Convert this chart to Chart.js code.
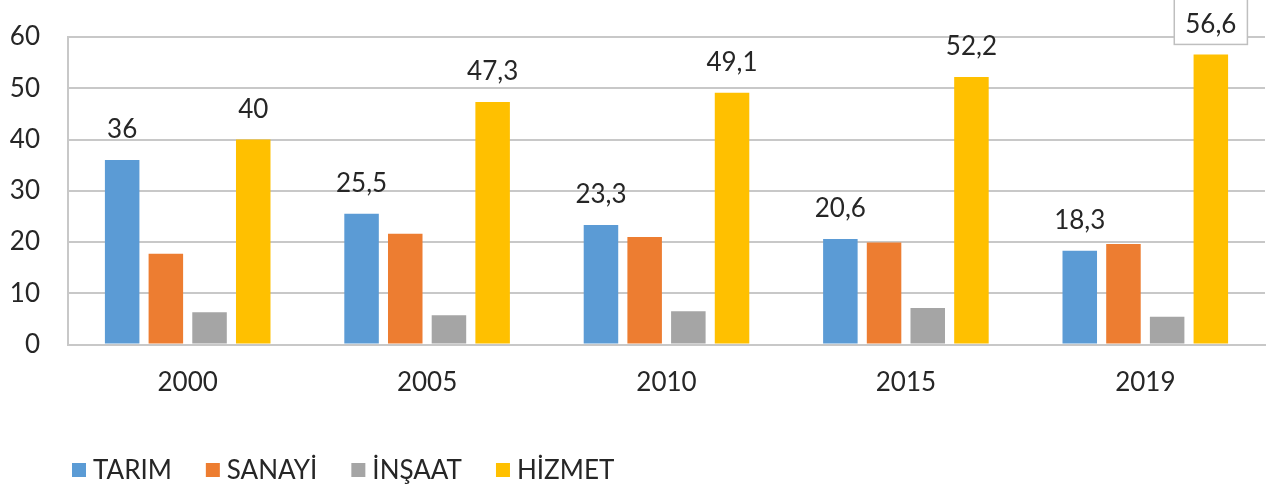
<!DOCTYPE html>
<html>
<head>
<meta charset="utf-8">
<script src="https://cdn.jsdelivr.net/npm/chart.js@4/dist/chart.umd.min.js"></script>
<style>
  html, body { margin: 0; padding: 0; background: #fff; }
  #wrap { width: 1266px; height: 486px; position: relative; }
</style>
</head>
<body>
<div id="wrap"><canvas id="sektorChart"></canvas></div>
<script>
// Data
const years = ['2000', '2005', '2010', '2015', '2019'];
const tarim = [36, 25.5, 23.3, 20.6, 18.3];
const sanayi = [17.7, 21.6, 21.0, 19.9, 19.6];
const insaat = [6.3, 5.7, 6.5, 7.1, 5.4];
const hizmet = [40, 47.3, 49.1, 52.2, 56.6];
const yTicks = [0, 10, 20, 30, 40, 50, 60];
const labeledSeries = ['TARIM', 'HİZMET'];

const fontFamily = "Lato, 'Open Sans', sans-serif";
Chart.defaults.font.family = fontFamily;
Chart.defaults.font.size = 26;
Chart.defaults.color = '#262626';

const gridColor = '#c8c8c8';

// draws value labels above TARIM and HİZMET bars
const valueLabels = {
  id: 'valueLabels',
  afterDatasetsDraw(chart) {
    const ctx = chart.ctx;
    const area = chart.chartArea;
    ctx.save();
    ctx.font = '26px ' + fontFamily;
    ctx.fillStyle = '#262626';
    ctx.textAlign = 'center';
    ctx.textBaseline = 'middle';
    chart.data.datasets.forEach((ds, i) => {
      if (!labeledSeries.includes(ds.label)) return;
      chart.getDatasetMeta(i).data.forEach((bar, j) => {
        const txt = String(ds.data[j]).replace('.', ',');
        const y = bar.y - 30;
        if (y < area.top) {
          // label pushed over the top edge gets a white box, as in the original
          const w = ctx.measureText(txt).width + 22;
          ctx.fillStyle = '#fff';
          ctx.fillRect(bar.x - w / 2, y - 26, w, 46);
          ctx.strokeStyle = '#bfbfbf';
          ctx.lineWidth = 1.5;
          ctx.strokeRect(bar.x - w / 2, y - 26, w, 46);
          ctx.fillStyle = '#262626';
        }
        ctx.fillText(txt, bar.x, y);
      });
    });
    ctx.restore();
  }
};

// legend along the bottom, left aligned like the original
const bottomLegend = {
  id: 'bottomLegend',
  afterDraw(chart) {
    const ctx = chart.ctx;
    let x = 72;
    const y = 470;
    ctx.save();
    ctx.font = '26px ' + fontFamily;
    ctx.textBaseline = 'middle';
    ctx.textAlign = 'left';
    chart.data.datasets.forEach(ds => {
      ctx.fillStyle = ds.backgroundColor;
      ctx.fillRect(x, y - 7, 14, 14);
      ctx.fillStyle = '#262626';
      ctx.fillText(ds.label, x + 21, y + 1);
      x += 21 + ctx.measureText(ds.label).width + 34;
    });
    ctx.restore();
  }
};

const ctx = document.getElementById('sektorChart').getContext('2d');

new Chart(ctx, {
  type: 'bar',
  data: {
    labels: years,
    datasets: [
      { label: 'TARIM', data: tarim, backgroundColor: '#5b9bd5' },
      { label: 'SANAYİ', data: sanayi, backgroundColor: '#ed7d31' },
      { label: 'İNŞAAT', data: insaat, backgroundColor: '#a5a5a5' },
      { label: 'HİZMET', data: hizmet, backgroundColor: '#ffc000' }
    ]
  },
  options: {
    responsive: true,
    maintainAspectRatio: false,
    animation: false,
    categoryPercentage: 0.73,
    barPercentage: 0.79,
    layout: {
      padding: { left: 0, right: 1, top: 37, bottom: 0 }
    },
    plugins: {
      tooltip: { enabled: false },
      legend: { display: false }
    },
    scales: {
      x: {
        grid: { display: false, drawTicks: false },
        border: { display: true, color: gridColor, width: 2 },
        ticks: { padding: 23 },
        afterFit(scale) { scale.height = 141.5; }
      },
      y: {
        min: 0,
        max: 60,
        afterBuildTicks(scale) { scale.ticks = yTicks.map(v => ({ value: v })); },
        grid: { color: gridColor, lineWidth: 2, drawTicks: false },
        border: { display: true, color: gridColor, width: 2 },
        ticks: { padding: 28 },
        afterFit(scale) {
          scale.width = 68;
          scale.paddingTop = 0;
          scale.paddingBottom = 0;
        }
      }
    }
  },
  plugins: [valueLabels, bottomLegend]
});
</script>
</body>
</html>
